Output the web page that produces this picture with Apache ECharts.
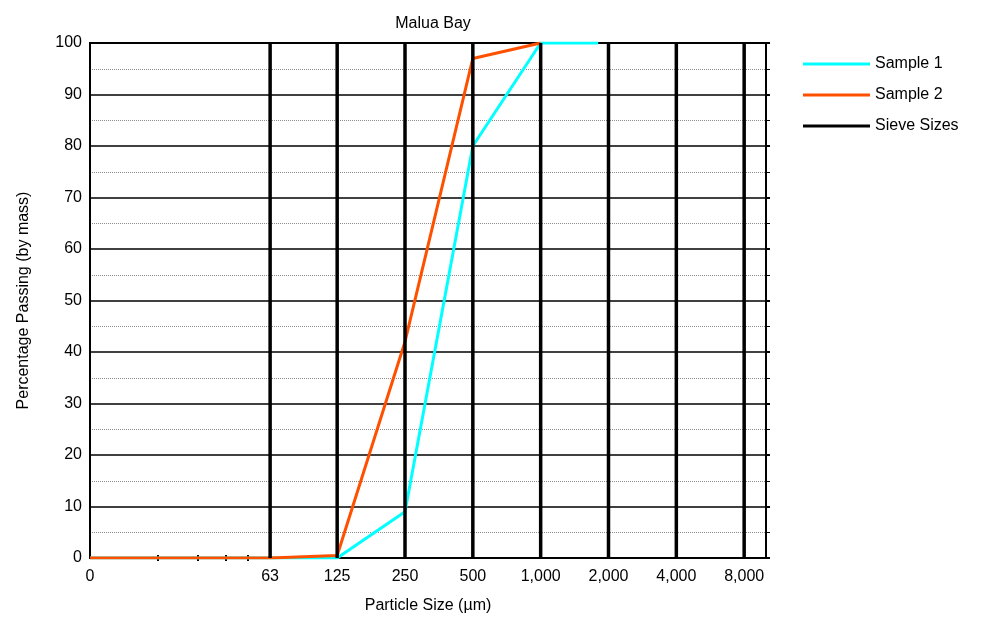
<!DOCTYPE html>
<html><head><meta charset="utf-8">
<script src="https://cdn.jsdelivr.net/npm/echarts@6/dist/echarts.min.js"></script>
<style>html,body{margin:0;padding:0;background:#fff}#c{width:998px;height:628px}</style>
</head><body><div id="c"></div>
<script>
const title = 'Malua Bay';
const sieveSizes = [63, 125, 250, 500, 1000, 2000, 4000, 8000];
const xTickLabels = [10, 63, 125, 250, 500, 1000, 2000, 4000, 8000];
const xMinorTicks = [20, 30, 40, 50];
const sample1X = [10, 63, 125, 250, 500, 1000, 1800];
const sample1Y = [0, 0, 0, 9, 80, 100, 100];
const sample2X = [10, 63, 125, 250, 500, 1000];
const sample2Y = [0, 0, 0.5, 42, 97, 100];

const FONT = '"Liberation Sans", Arial, sans-serif';
const pair = (xs, ys) => xs.map((x, i) => [x, ys[i]]);
const sieveData = [];
sieveSizes.forEach(s => { sieveData.push([s, 0], [s, 100], [s, '-']); });

const baseX = {
  type: 'log', logBase: 10, min: 10, max: 10000,
  axisLine: { show: true, lineStyle: { color: '#000', width: 2 } },
  axisTick: { show: true, inside: true, length: 3, customValues: xMinorTicks, lineStyle: { color: '#000', width: 2 } },
  minorTick: { show: false },
  splitLine: { show: false }
};

const chart = echarts.init(document.getElementById('c'));
chart.setOption({
  animation: false,
  backgroundColor: '#fff',
  textStyle: { fontFamily: FONT, color: '#000' },
  title: { text: title, left: 428, textAlign: 'center', top: 11,
    textStyle: { fontFamily: FONT, fontSize: 16, fontWeight: 'normal', color: '#000' } },
  grid: { left: 90, right: 232, top: 43, bottom: 70, show: true, borderColor: '#000', borderWidth: 2, backgroundColor: 'transparent' },
  legend: {
    left: 798, top: 50, orient: 'vertical', itemWidth: 67, itemHeight: 3, itemGap: 13,
    textStyle: { fontFamily: FONT, fontSize: 16, color: '#000', lineHeight: 18 },
    data: [
      { name: 'Sample 1', icon: 'rect' },
      { name: 'Sample 2', icon: 'rect' },
      { name: 'Sieve Sizes', icon: 'rect' }
    ]
  },
  xAxis: [Object.assign({}, baseX, {
    name: 'Particle Size (\u00b5m)', nameLocation: 'middle', nameGap: 40,
    nameTextStyle: { fontFamily: FONT, fontSize: 16, color: '#000' },
    axisLabel: {
      customValues: xTickLabels, margin: 11, fontFamily: FONT, fontSize: 16, color: '#000',
      formatter: v => { const r = Math.round(v); return r === 10 ? '0' : r.toLocaleString('en-US'); }
    }
  }), Object.assign({}, baseX, {
    position: 'top',
    axisLabel: { show: false }
  })],
  yAxis: [{
    type: 'value', min: 0, max: 100, interval: 10,
    name: 'Percentage Passing (by mass)', nameLocation: 'middle', nameGap: 58, nameRotate: 90,
    nameTextStyle: { fontFamily: FONT, fontSize: 16, color: '#000' },
    axisLine: { show: true, lineStyle: { color: '#000', width: 2 } },
    axisTick: { show: false },
    axisLabel: { margin: 8, fontFamily: FONT, fontSize: 16, color: '#000' },
    splitLine: { show: true, lineStyle: { color: '#000', width: 1.5 } },
    minorTick: { show: false, splitNumber: 2 },
    minorSplitLine: { show: true, lineStyle: { color: '#8c8c8c', width: 1, type: 'dotted' } }
  }, {
    type: 'value', min: 0, max: 100, interval: 10, position: 'right',
    axisLine: { show: true, lineStyle: { color: '#000', width: 2 } },
    axisTick: { show: true, inside: false, length: 4, lineStyle: { color: '#000', width: 2 } },
    minorTick: { show: true, splitNumber: 2, length: 4, lineStyle: { color: '#000', width: 1 } },
    axisLabel: { show: false },
    splitLine: { show: false }
  }],
  series: [
    { name: 'Sample 1', type: 'line', data: pair(sample1X, sample1Y), symbol: 'none', color: '#00ffff',
      lineStyle: { color: '#00ffff', width: 3 }, z: 3 },
    { name: 'Sample 2', type: 'line', data: pair(sample2X, sample2Y), symbol: 'none', color: '#ff5000',
      lineStyle: { color: '#ff5000', width: 3 }, z: 3 },
    { name: 'Sieve Sizes', type: 'line', data: sieveData, symbol: 'none', color: '#000', connectNulls: false,
      lineStyle: { color: '#000', width: 3.5 }, z: 4 }
  ]
});
</script></body></html>
